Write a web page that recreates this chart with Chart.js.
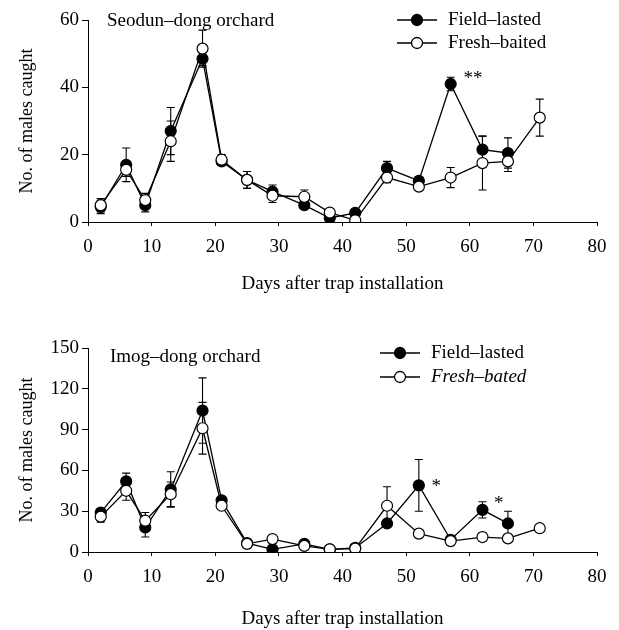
<!DOCTYPE html>
<html>
<head>
<meta charset="utf-8">
<script src="https://cdn.jsdelivr.net/npm/chart.js@4.4.1/dist/chart.umd.min.js"></script>
<style>
  html, body { margin: 0; padding: 0; background: #fff; }
  canvas { display: block; }
</style>
</head>
<body>
<canvas id="seodun" width="619" height="315"></canvas>
<canvas id="imog" width="619" height="315"></canvas>
<script>
// days after trap installation
const days = [2, 6, 9, 13, 18, 21, 25, 29, 34, 38, 42, 47, 52, 57, 62, 66, 71];

// Seodun-dong orchard
const seodunField   = [4.5, 17, 5, 27, 48.5, 18, 12.5, 9, 5, 1.2, 2.7, 16, 12.2, 41, 21.5, 20.5, null];
const seodunFieldSe = [2, 5, 2, 7, 2, 1, 2.5, 2, 1, 0.5, 0.5, 2, 1, 2, 4, 4.5, null];
const seodunFresh   = [5, 15.5, 6.5, 24, 51.5, 18.5, 12.5, 7.8, 7.5, 2.8, 0.5, 13.2, 10.5, 13.2, 17.5, 18, 31];
const seodunFreshSe = [2, 2, 2, 6, 5.5, 1.5, 2.5, 2, 2, 0.5, 0.5, 1.5, 1, 3, 8, 3, 5.5];

// Imog-dong orchard
const imogField   = [29, 52, 18, 46, 104, 38, 6.5, 2, 6, 2, 3, 21, 49, 9, 31, 21, null];
const imogFieldSe = [3, 6, 7, 13, 24, 2, 1, 1, 1, 0.5, 0.5, 2, 19, 1, 6, 9, null];
const imogFresh   = [26, 45, 23, 42.5, 91, 34, 6, 9.5, 4.5, 2, 2.5, 34, 13.5, 8, 11, 10, 17.5];
const imogFreshSe = [4, 7, 6, 9, 19, 2, 1, 1, 1, 0.5, 0.5, 14, 3, 2, 3, 2, 2];

const xTicks = [0, 10, 20, 30, 40, 50, 60, 70, 80];

const SERIF = '"Liberation Serif", "DejaVu Serif", serif';

const pts = arr => days.map((d, i) => ({ x: d, y: arr[i] }));

// vertical error bars, drawn under the markers
const errorBars = {
  id: 'errorBars',
  beforeDatasetsDraw(chart) {
    const { ctx, scales: { x, y } } = chart;
    ctx.save();
    ctx.strokeStyle = '#000';
    ctx.lineWidth = 1.1;
    chart.data.datasets.forEach(ds => {
      ds.data.forEach((p, i) => {
        const e = ds.se[i];
        if (p.y == null || e == null) return;
        const px = x.getPixelForValue(p.x);
        const top = y.getPixelForValue(p.y + e);
        const bot = y.getPixelForValue(Math.max(0, p.y - e));
        ctx.beginPath();
        ctx.moveTo(px, top); ctx.lineTo(px, bot);
        ctx.moveTo(px - 4, top); ctx.lineTo(px + 4, top);
        ctx.moveTo(px - 4, bot); ctx.lineTo(px + 4, bot);
        ctx.stroke();
      });
    });
    ctx.restore();
  }
};

// panel title, legend and asterisks
const decor = {
  id: 'decor',
  afterDraw(chart, args, opts) {
    const { ctx, scales: { x, y } } = chart;
    ctx.save();
    ctx.strokeStyle = '#000';
    ctx.fillStyle = '#000';

    ctx.font = '19px ' + SERIF;
    ctx.textBaseline = 'middle';
    ctx.textAlign = 'left';
    ctx.fillText(opts.title.text, opts.title.x, opts.title.y);

    const lg = opts.legend;
    lg.rows.forEach((r, i) => {
      const ry = lg.y + i * lg.gap;
      ctx.lineWidth = 1.3;
      ctx.beginPath();
      ctx.moveTo(lg.x, ry);
      ctx.lineTo(lg.x + 40, ry);
      ctx.stroke();
      ctx.beginPath();
      ctx.arc(lg.x + 20, ry, 5.5, 0, Math.PI * 2);
      ctx.fillStyle = r.filled ? '#000' : '#fff';
      ctx.fill();
      ctx.stroke();
      ctx.fillStyle = '#000';
      ctx.font = (r.italic ? 'italic ' : '') + '19px ' + SERIF;
      ctx.fillText(r.label, lg.x + 51, ry);
    });

    ctx.font = '19px ' + SERIF;
    opts.stars.forEach(s => {
      ctx.fillText(s.text, x.getPixelForValue(s.x), y.getPixelForValue(s.y));
    });
    ctx.restore();
  }
};

function makeChart(id, field, fieldSe, fresh, freshSe, yMax, yStep, padTop, padBottom, xHeight, decorOpts) {
  const tickFont = { family: SERIF, size: 19 };
  new Chart(document.getElementById(id), {
    type: 'line',
    data: {
      datasets: [{
        label: 'Field-lasted',
        data: pts(field),
        se: fieldSe,
        borderColor: '#000',
        borderWidth: 1.3,
        pointRadius: 5.5,
        pointBackgroundColor: '#000',
        pointBorderColor: '#000',
        pointBorderWidth: 1.2,
        tension: 0,
        order: 1
      }, {
        label: 'Fresh-baited',
        data: pts(fresh),
        se: freshSe,
        borderColor: '#000',
        borderWidth: 1.3,
        pointRadius: 5.5,
        pointBackgroundColor: '#fff',
        pointBorderColor: '#000',
        pointBorderWidth: 1.2,
        tension: 0,
        order: 0
      }]
    },
    options: {
      responsive: false,
      animation: false,
      events: [],
      layout: { padding: { left: 10, right: 22, top: padTop, bottom: padBottom } },
      plugins: {
        legend: { display: false },
        tooltip: { enabled: false },
        decor: decorOpts
      },
      scales: {
        x: {
          type: 'linear',
          min: 0, max: 80,
          afterBuildTicks: s => { s.ticks = xTicks.map(v => ({ value: v })); },
          afterFit: s => { s.height = xHeight; },
          grid: { drawOnChartArea: false, drawTicks: true, tickLength: 4, color: '#000' },
          border: { display: true, color: '#000', width: 1 },
          ticks: { color: '#000', font: tickFont, padding: 10, maxRotation: 0 },
          title: {
            display: true,
            text: 'Days after trap installation',
            color: '#000',
            font: tickFont,
            padding: { top: 0, bottom: 0 }
          }
        },
        y: {
          min: 0, max: yMax,
          afterFit: s => { s.width = 78; },
          grid: { drawOnChartArea: false, drawTicks: true, tickLength: 6, color: '#000' },
          border: { display: true, color: '#000', width: 1 },
          ticks: { stepSize: yStep, color: '#000', font: tickFont, padding: 3 },
          title: {
            display: true,
            text: 'No. of males caught',
            color: '#000',
            font: { family: SERIF, size: 18 },
            padding: { top: 6, bottom: 0 }
          }
        }
      }
    },
    plugins: [errorBars, decor]
  });
}

makeChart('seodun', seodunField, seodunFieldSe, seodunFresh, seodunFreshSe, 60, 20, 20, 20, 73, {
  title: { text: 'Seodun–dong orchard', x: 107, y: 21 },
  legend: { x: 397, y: 20, gap: 23, rows: [
    { label: 'Field–lasted', filled: true },
    { label: 'Fresh–baited', filled: false }
  ] },
  stars: [{ text: '**', x: 59, y: 42.5 }]
});

makeChart('imog', imogField, imogFieldSe, imogFresh, imogFreshSe, 150, 30, 33, 0, 78, {
  title: { text: 'Imog–dong orchard', x: 110, y: 42 },
  legend: { x: 380, y: 38, gap: 24, rows: [
    { label: 'Field–lasted', filled: true },
    { label: 'Fresh–bated', filled: false, italic: true }
  ] },
  stars: [{ text: '*', x: 54, y: 48 }, { text: '*', x: 63.8, y: 35 }]
});
</script>
</body>
</html>
